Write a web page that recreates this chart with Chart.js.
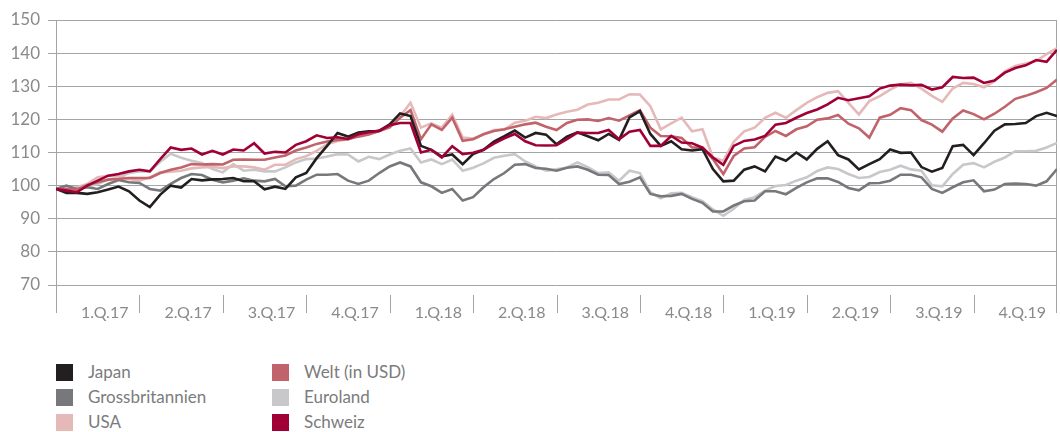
<!DOCTYPE html>
<html lang="de">
<head>
<meta charset="utf-8">
<title>Aktienmärkte 2017–2019</title>
<script src="https://cdn.jsdelivr.net/npm/chart.js@4/dist/chart.umd.min.js"></script>
<style>
  body { margin: 0; background: #fff; font-family: Lato, "Open Sans", sans-serif; }
  #wrap { position: relative; width: 1060px; height: 432px; overflow: hidden; }
  #chart-box { position: absolute; left: 0; top: 0; width: 1060px; height: 330px; }
  .leg { position: absolute; height: 17px; line-height: 17px; font-size: 17px; color: #7b7b7d; white-space: nowrap; }
  .leg i { position: absolute; left: 0; top: 0; width: 17px; height: 17px; }
  .leg span { position: absolute; left: 32px; top: -1px; }
</style>
</head>
<body>
<div id="wrap">
  <div id="chart-box"><canvas id="market-chart-id"></canvas></div>
  <div id="legend-id"></div>
</div>
<script>
// quarter labels on the x axis (8 points per quarter, 97 points)
const quarterLabels = ['1.Q.17', '2.Q.17', '3.Q.17', '4.Q.17', '1.Q.18', '2.Q.18',
  '3.Q.18', '4.Q.18', '1.Q.19', '2.Q.19', '3.Q.19', '4.Q.19'];
const yTicks = [70, 80, 90, 100, 110, 120, 130, 140, 150];

// index values
const japan = [99, 97.8, 97.8, 97.5, 98, 98.8, 99.7, 98.3, 95.5, 93.5, 97.3, 100, 99.4,
  102, 101.6, 101.9, 102, 102.3, 101.3, 101.3, 98.9, 99.7, 99, 102.5, 103.8, 108.3, 112,
  115.9, 114.8, 116, 116.4, 116.5, 118.5, 121.8, 121, 112, 110.8, 108.8, 109.4, 106.5,
  109.5, 110.8, 113.3, 114.9, 116.6, 114.5, 115.9, 115.4, 112.5, 114.8, 116.1, 114.9,
  113.7, 115.6, 113.8, 120.6, 122.5, 115.6, 112, 113.4, 111, 110.6, 111, 105, 101.3,
  101.5, 104.8, 105.8, 104.3, 108.8, 107.5, 110, 107.9, 111.1, 113.4, 109.2, 107.9,
  104.9, 106.5, 108, 110.9, 109.9, 110, 105.6, 104.2, 105.3, 111.9, 112.3, 109.2, 112.8,
  116.6, 118.5, 118.6, 118.9, 121, 122, 121];
const grossbritannien = [99, 100, 99, 99.5, 99, 100.5, 101.7, 101, 100.8, 99, 98.5, 100.5,
  102.3, 103.5, 103.2, 101.8, 101, 101.5, 102.2, 101.5, 101.3, 102, 99.8, 100, 101.8,
  103.3, 103.3, 103.5, 101.5, 100.5, 101.5, 103.8, 105.8, 107, 105.8, 101, 99.8, 97.8,
  99, 95.5, 96.5, 99.5, 102, 103.8, 106.3, 106.5, 105.3, 105.1, 104.5, 105.4, 105.8,
  104.8, 103.3, 103.2, 100.5, 101.2, 102.5, 97.5, 96.8, 96.9, 97.5, 96, 94.8, 92.2, 92.2,
  94, 95.3, 95.5, 98.3, 98.3, 97.4, 99.3, 101, 102.2, 102.2, 101.1, 99.3, 98.6, 100.7,
  100.8, 101.5, 103.3, 103.3, 102.5, 99, 97.8, 99.5, 101, 101.6, 98.3, 98.8, 100.5,
  100.6, 100.5, 100, 101.3, 105];
const usa = [99, 99, 99.5, 100.5, 102.5, 103, 103, 102, 101.5, 102.5, 104, 104.2, 104.5,
  105.2, 105.5, 105.6, 105.3, 105.8, 105.8, 105.5, 104.8, 106.3, 106.3, 108, 108.9,
  110.5, 112.5, 113.5, 114, 115.2, 115.8, 116.5, 117.8, 120.9, 125, 117.5, 118.8, 117.5,
  121.4, 114.5, 114.2, 115.5, 116.8, 116.9, 119, 119.6, 120.8, 120.4, 121.5, 122.3,
  122.9, 124.5, 125, 126, 126, 127.6, 127.5, 124, 117, 118.8, 120.5, 116.4, 117, 108.5,
  107.5, 113.2, 116.4, 117.5, 120.5, 122, 120.5, 122.8, 125, 126.7, 128, 128.5, 125,
  121.5, 125.5, 127, 129, 130.6, 131, 129.3, 127.1, 125.3, 129.3, 131, 130.7, 129.7,
  131.5, 134.5, 136.1, 136.9, 137.6, 139.7, 141.5];
const welt = [99, 99, 98.8, 100.2, 101, 101.8, 102, 102.3, 102.3, 102.3, 103.8, 104.8,
  105.5, 106.5, 106.4, 106.5, 106.4, 107.8, 107.9, 107.8, 107.8, 108.5, 109.1, 110.6,
  111.5, 112.6, 113.3, 113.8, 114, 114.8, 115.4, 116.5, 117.6, 120.5, 122.8, 114, 118.5,
  116.8, 120.5, 113.5, 114, 115.5, 116.5, 117, 117.8, 118.5, 119, 117.8, 116.8, 118.9,
  119.9, 120, 119.5, 120.4, 119.6, 121.2, 122.8, 117.5, 115, 114.9, 114.4, 111.5, 111.5,
  108, 103.5, 109, 111.2, 111.6, 114.7, 116.5, 115, 117, 117.9, 119.9, 120.3, 121.3,
  118.7, 117.3, 114.5, 120.5, 121.4, 123.4, 122.8, 119.8, 118.4, 116.3, 120.3, 122.7,
  121.6, 120, 121.7, 123.8, 126.2, 127.1, 128.2, 129.5, 132];
const euroland = [99, 99.5, 99, 99.7, 100.5, 101.8, 102.5, 103.8, 104.3, 104.3, 107.2,
  109.6, 108.4, 107.5, 106.8, 105, 104, 106.5, 104.5, 104.8, 104.3, 104.3, 105.5, 107,
  108, 108.2, 108.8, 109.5, 109.4, 107.3, 108.7, 108, 109.4, 110.5, 111.2, 107, 107.9,
  106.5, 107.9, 104.5, 105.4, 106.7, 108.4, 109, 109.5, 107.3, 105.8, 104.5, 104.9,
  105.5, 107, 105.6, 103.8, 104, 101.5, 104.5, 103.8, 98, 96.2, 97.7, 97.8, 96.5, 95.3,
  92.8, 90.9, 93, 95.7, 96.5, 98.5, 99.9, 100.2, 101.5, 102.5, 104.4, 105.5, 105, 103.5,
  102.3, 102.6, 104.1, 104.8, 106, 104.9, 104.5, 100.1, 99.8, 103.5, 106.3, 106.8, 105.5,
  107.2, 108.5, 110.4, 110.4, 110.5, 111.5, 112.9];
const schweiz = [99, 98.5, 98, 100, 101.5, 103, 103.5, 104.3, 104.8, 104.3, 108, 111.5,
  110.8, 111.2, 109.4, 110.5, 109.4, 110.9, 110.6, 112.8, 109.7, 110.2, 110, 112.3,
  113.4, 115.2, 114.4, 114.6, 114.1, 115.5, 116.1, 116.6, 118.2, 118.9, 118.9, 110,
  110.8, 108.5, 111.9, 109.5, 109.9, 110.8, 112.7, 114.3, 115.6, 113.4, 112.2, 112.1,
  112.2, 114, 116, 115.9, 115.9, 116.8, 114, 116.3, 116.8, 112, 112, 115, 113, 112.8,
  111.5, 108.5, 106.3, 112, 113.5, 113.9, 115, 118.4, 118.9, 120.5, 121.9, 123, 124.5,
  126.5, 125.8, 126.4, 127, 129.3, 130.2, 130.5, 130.3, 130.4, 129, 129.7, 132.8, 132.5,
  132.6, 131, 131.7, 134.1, 135.5, 136.3, 137.9, 137.4, 141];

const seriesNames = ['Japan', 'Grossbritannien', 'USA', 'Welt (in USD)', 'Euroland', 'Schweiz'];
const seriesColors = ['#231f20', '#77787b', '#e6b9b9', '#c1636a', '#c8c8ca', '#a00036'];
const seriesData = [japan, grossbritannien, usa, welt, euroland, schweiz];
const drawOrder = [1, 3, 4, 2, 5, 0]; // lower = on top

const gridGray = '#a4a4a6';
const textGray = '#8a8a8c';

function toPoints(arr) {
  return arr.map((v, i) => ({ x: i, y: v }));
}

// axis frame: extended left axis, right border, quarter separators
const framePlugin = {
  id: 'frame',
  beforeDatasetsDraw(chart) {
    const { ctx, chartArea } = chart;
    const xs = chart.scales.x;
    const bottom = chartArea.bottom + 28;
    ctx.save();
    ctx.strokeStyle = gridGray;
    ctx.lineWidth = 1;
    ctx.beginPath();
    ctx.moveTo(Math.round(chartArea.left) + 0.5, chartArea.top);
    ctx.lineTo(Math.round(chartArea.left) + 0.5, bottom);
    ctx.moveTo(Math.round(chartArea.right) - 0.5, chartArea.top);
    ctx.lineTo(Math.round(chartArea.right) - 0.5, bottom);
    for (let q = 1; q < quarterLabels.length; q++) {
      const px = Math.round(xs.getPixelForValue(q * 8)) + 0.5;
      ctx.moveTo(px, chartArea.bottom + 10);
      ctx.lineTo(px, bottom);
    }
    ctx.stroke();
    ctx.restore();
  }
};

const chartCtx = document.getElementById('market-chart-id');
if (chartCtx) {
  new Chart(chartCtx, {
    type: 'line',
    data: {
      datasets: seriesData.map((arr, i) => ({
        label: seriesNames[i],
        data: toPoints(arr),
        borderColor: seriesColors[i],
        backgroundColor: seriesColors[i],
        borderWidth: 2.6,
        pointRadius: 0,
        tension: 0,
        fill: false,
        order: drawOrder[i]
      }))
    },
    options: {
      responsive: true,
      maintainAspectRatio: false,
      animation: false,
      layout: { padding: { top: 20, right: 3, left: 0, bottom: 0 } },
      plugins: {
        legend: { display: false },
        tooltip: { enabled: false }
      },
      scales: {
        x: {
          type: 'linear',
          min: 0,
          max: 96,
          afterBuildTicks: scale => {
            scale.ticks = quarterLabels.map((l, i) => ({ value: 4 + i * 8 }));
          },
          afterFit: scale => { scale.height = 45; },
          ticks: {
            autoSkip: false,
            maxRotation: 0,
            color: textGray,
            font: { family: 'Lato', size: 16 },
            padding: 10,
            labelOffset: 7,
            callback: (value, index) => quarterLabels[index]
          },
          grid: { display: false },
          border: { display: false }
        },
        y: {
          min: 70,
          max: 150,
          afterBuildTicks: scale => {
            scale.ticks = yTicks.map(v => ({ value: v }));
          },
          afterFit: scale => { scale.width = 56; },
          ticks: {
            color: textGray,
            font: { family: 'Lato', size: 17 },
            padding: 8
          },
          grid: { color: gridGray, lineWidth: 1, tickLength: 8 },
          border: { display: false }
        }
      }
    },
    plugins: [framePlugin]
  });
}

// legend, two columns
const legendBox = document.getElementById('legend-id');
seriesNames.forEach((name, i) => {
  const col = Math.floor(i / 3);
  const row = i % 3;
  const item = document.createElement('div');
  item.className = 'leg';
  item.style.left = (56 + col * 216) + 'px';
  item.style.top = (364 + row * 25) + 'px';
  item.innerHTML = `<i style="background:${seriesColors[i]}"></i><span>${name}</span>`;
  legendBox.appendChild(item);
});
</script>
</body>
</html>
